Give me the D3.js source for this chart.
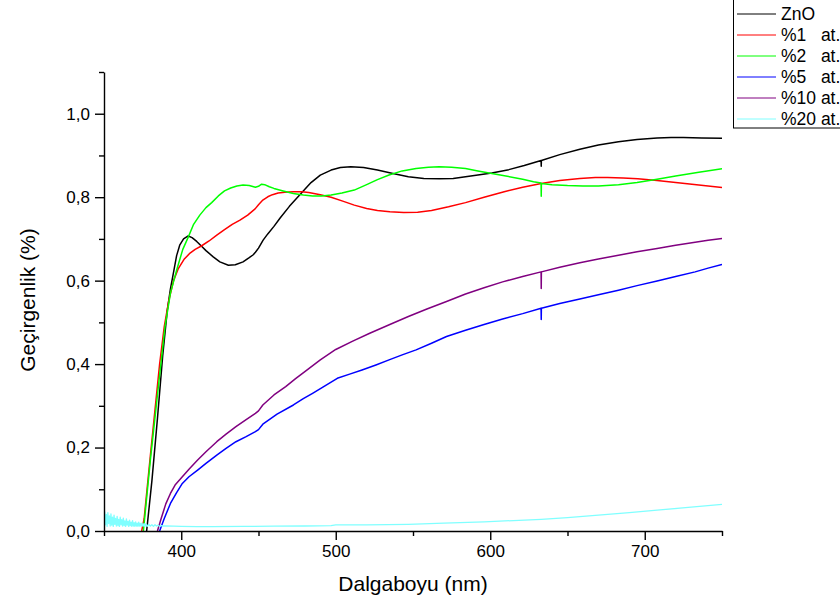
<!DOCTYPE html>
<html>
<head>
<meta charset="utf-8">
<script src="https://cdn.jsdelivr.net/npm/d3@7/dist/d3.min.js"></script>
<style>
  html, body { margin: 0; padding: 0; background: #fff; }
  svg { display: block; font-family: "Liberation Sans", Arial, sans-serif; }
  .legend text { white-space: pre; }
</style>
</head>
<body>
<svg id="chart" width="840" height="610"></svg>
<script>
// Transmittance spectra of ZnO films (undoped and doped), wavelength in nm.
const seriesNames = ["ZnO", "%1   at.", "%2   at.", "%5   at.", "%10 at.", "%20 at."];
const seriesColors = ["#000000", "#ff0000", "#00ff00", "#0000ff", "#800080", "#80ffff"];

const xTicks = [400, 500, 600, 700];
const xMinorTicks = [350, 450, 550, 650, 750];
const yTicks = [0, 0.2, 0.4, 0.6, 0.8, 1.0];
const yMinorTicks = [0.1, 0.3, 0.5, 0.7, 0.9, 1.1];

const znoWl = [377.6, 381, 384.6, 388, 391, 393, 395, 397, 399, 401.5, 404.5, 407, 410, 413, 416, 420.7, 425, 430.5, 435, 440, 444, 446.6, 448, 450, 453, 456, 460, 464, 470, 477.5, 484, 490, 497, 503, 509.7, 518, 527, 537, 547, 557, 567, 576, 584, 592, 601, 612, 622, 632.9, 633, 633.1, 645, 658, 670, 683, 695, 708, 717, 725, 737, 750];
const znoT  = [0, 0.12, 0.27, 0.42, 0.53, 0.58, 0.62, 0.66, 0.685, 0.700, 0.707, 0.703, 0.694, 0.683, 0.672, 0.657, 0.645, 0.637, 0.638, 0.645, 0.655, 0.662, 0.668, 0.678, 0.697, 0.712, 0.73, 0.75, 0.778, 0.809, 0.835, 0.853, 0.865, 0.871, 0.873, 0.871, 0.865, 0.857, 0.849, 0.845, 0.844, 0.845, 0.849, 0.853, 0.858, 0.866, 0.876, 0.888, 0.874, 0.888, 0.902, 0.915, 0.925, 0.933, 0.938, 0.942, 0.943, 0.943, 0.942, 0.941];

const at1Wl = [374.4, 376, 380, 386, 389, 392, 395, 398, 402, 405.7, 409, 413, 418, 423, 428, 433, 438, 443, 447.8, 450, 452.8, 456, 459, 462.7, 467, 472.6, 478, 482.5, 490, 497, 505, 512, 520, 527, 535, 544, 553, 562, 573, 584, 596, 609, 621, 633, 645, 658, 668, 676, 686, 695.5, 708, 720, 735, 750];
const at1T  = [0, 0.03, 0.18, 0.40, 0.49, 0.553, 0.6, 0.628, 0.652, 0.666, 0.675, 0.683, 0.695, 0.709, 0.722, 0.735, 0.745, 0.757, 0.772, 0.782, 0.793, 0.801, 0.806, 0.810, 0.812, 0.813, 0.813, 0.811, 0.806, 0.8, 0.79, 0.781, 0.773, 0.768, 0.765, 0.763, 0.764, 0.768, 0.777, 0.787, 0.8, 0.813, 0.824, 0.833, 0.840, 0.845, 0.847, 0.847, 0.846, 0.844, 0.84, 0.835, 0.829, 0.823];

const at2Wl = [375.5, 380, 385, 389.5, 393, 397, 401, 404.6, 408, 412, 416, 419.7, 424, 428, 432, 436, 440, 444, 448, 450, 452, 454, 457, 460, 466, 472.5, 479, 485, 491, 497, 504, 512, 520, 527, 534.5, 543, 552, 560, 567, 575, 584, 592, 601, 611, 621, 628, 632.9, 633, 633.1, 640, 650, 660, 670, 683, 695, 708, 720, 735, 750];
const at2T  = [0, 0.17, 0.34, 0.49, 0.57, 0.625, 0.675, 0.705, 0.735, 0.757, 0.775, 0.787, 0.803, 0.815, 0.822, 0.827, 0.829, 0.828, 0.824, 0.826, 0.831, 0.830, 0.825, 0.821, 0.815, 0.809, 0.805, 0.803, 0.803, 0.805, 0.81, 0.817, 0.83, 0.842, 0.853, 0.863, 0.869, 0.872, 0.873, 0.872, 0.869, 0.863, 0.857, 0.85, 0.843, 0.837, 0.834, 0.802, 0.833, 0.83, 0.828, 0.827, 0.827, 0.83, 0.835, 0.843, 0.851, 0.86, 0.868];

const at5Wl = [386, 389, 393, 397, 400.7, 405, 410.6, 416, 423, 429, 435.4, 442, 448, 450, 452.8, 462, 472.6, 479, 485, 493, 501, 509, 517, 526, 534.5, 543, 552, 562, 571.7, 584, 596, 608, 621, 632.9, 633, 633.1, 645, 658, 670, 683, 695, 708, 720, 732.6, 741, 750];
const at5T  = [0, 0.03, 0.066, 0.092, 0.114, 0.13, 0.146, 0.162, 0.182, 0.198, 0.214, 0.226, 0.238, 0.243, 0.256, 0.28, 0.302, 0.317, 0.33, 0.348, 0.366, 0.376, 0.386, 0.398, 0.41, 0.422, 0.434, 0.45, 0.466, 0.481, 0.495, 0.508, 0.521, 0.534, 0.507, 0.534, 0.545, 0.556, 0.566, 0.577, 0.588, 0.599, 0.61, 0.621, 0.63, 0.639];

const at10Wl = [384.6, 387, 390, 393, 396, 400.7, 405, 410.6, 416, 423, 429, 435.4, 442, 448, 450, 452.8, 460, 467.6, 474, 480, 490, 500, 511, 522, 535, 547, 559, 571.7, 584, 596, 608, 621, 632.9, 633, 633.1, 645, 658, 670, 683, 695, 708, 720, 732.6, 741, 750];
const at10T  = [0, 0.03, 0.065, 0.09, 0.11, 0.13, 0.148, 0.17, 0.19, 0.214, 0.232, 0.25, 0.267, 0.282, 0.288, 0.302, 0.326, 0.346, 0.365, 0.382, 0.41, 0.435, 0.455, 0.474, 0.495, 0.514, 0.532, 0.55, 0.568, 0.583, 0.597, 0.61, 0.621, 0.581, 0.621, 0.632, 0.643, 0.652, 0.661, 0.669, 0.677, 0.685, 0.692, 0.697, 0.701];

// %20 sample: noisy readings below 390 nm, then a smooth slow rise
const at20Wl = [350, 350.5, 351, 351.5, 352, 352.5, 353, 353.5, 354, 354.5, 355, 355.5, 356, 356.5, 357, 357.5, 358, 358.5, 359, 359.5, 360, 360.5, 361, 361.5, 362, 362.5, 363, 363.5, 364, 364.5, 365, 365.5, 366, 366.5, 367, 367.5, 368, 368.5, 369, 369.5, 370, 370.5, 371, 371.5, 372, 372.5, 373, 373.5, 374, 374.5, 375, 375.5, 376, 376.5, 377, 377.5, 378, 379, 380, 381, 382, 383, 384, 385, 386, 387, 388, 390, 395, 400, 410, 420, 440, 460, 480, 497, 500, 520, 547, 570, 596, 615, 633, 650, 670, 690, 708, 730, 750];
const at20T  = [0.012, 0.046, 0.015, 0.040, 0.011, 0.044, 0.018, 0.036, 0.012, 0.041, 0.014, 0.033, 0.011, 0.038, 0.016, 0.030, 0.012, 0.035, 0.013, 0.028, 0.011, 0.033, 0.015, 0.027, 0.012, 0.031, 0.013, 0.024, 0.011, 0.029, 0.014, 0.023, 0.011, 0.026, 0.013, 0.021, 0.011, 0.025, 0.012, 0.020, 0.011, 0.022, 0.012, 0.019, 0.011, 0.021, 0.012, 0.018, 0.011, 0.019, 0.012, 0.017, 0.011, 0.018, 0.012, 0.016, 0.011, 0.016, 0.012, 0.015, 0.011, 0.015, 0.012, 0.014, 0.011, 0.013, 0.012, 0.012, 0.0115, 0.011, 0.0105, 0.0105, 0.011, 0.0115, 0.012, 0.013, 0.0145, 0.0145, 0.016, 0.019, 0.022, 0.025, 0.028, 0.032, 0.038, 0.044, 0.05, 0.057, 0.064];

const seriesWl = [znoWl, at1Wl, at2Wl, at5Wl, at10Wl, at20Wl];
const seriesT  = [znoT, at1T, at2T, at5T, at10T, at20T];

const svg = d3.select("#chart");
const plotLeft = 104, plotRight = 722, plotTop = 72, plotBottom = 531;

const x = d3.scaleLinear().domain([350, 750]).range([plotLeft, plotRight]);
const y = d3.scaleLinear().domain([0, 1.1]).range([plotBottom, plotTop]);

const fmtY = v => d3.format(".1f")(v).replace(".", ",");

// clip region for the spectra
svg.append("defs").append("clipPath").attr("id", "plotClip")
  .append("rect").attr("x", plotLeft).attr("y", plotTop)
  .attr("width", plotRight - plotLeft).attr("height", plotBottom - plotTop);

const line = d3.line().x(d => x(d[0])).y(d => y(d[1]));

const plot = svg.append("g").attr("clip-path", "url(#plotClip)");
seriesWl.forEach((wl, i) => {
  const pts = wl.map((w, k) => [w, seriesT[i][k]]);
  plot.append("path")
    .datum(pts)
    .attr("fill", "none")
    .attr("stroke", seriesColors[i])
    .attr("stroke-width", i === 5 ? 1.3 : 1.5)
    .attr("stroke-linejoin", "round")
    .attr("d", line);
});

// axes: minor ticks first, then major ticks with labels
const axisStyle = g => {
  g.selectAll("path, line").attr("stroke", "#000").attr("stroke-width", 1.4);
  g.selectAll("text").attr("fill", "#000").attr("font-size", 17)
    .attr("font-family", "Liberation Sans, Arial, sans-serif");
};

svg.append("g").attr("transform", `translate(0,${plotBottom})`)
  .call(d3.axisBottom(x).tickValues(xMinorTicks).tickSize(5).tickSizeOuter(0).tickFormat(""))
  .call(axisStyle).call(g => g.select(".domain").remove());
svg.append("g").attr("transform", `translate(0,${plotBottom})`)
  .call(d3.axisBottom(x).tickValues(xTicks).tickSize(9).tickSizeOuter(0).tickPadding(5).tickFormat(d3.format("d")))
  .call(axisStyle);

svg.append("g").attr("transform", `translate(${plotLeft},0)`)
  .call(d3.axisLeft(y).tickValues(yMinorTicks).tickSize(5).tickSizeOuter(0).tickFormat(""))
  .call(axisStyle).call(g => g.select(".domain").remove());
svg.append("g").attr("transform", `translate(${plotLeft},0)`)
  .call(d3.axisLeft(y).tickValues(yTicks).tickSize(9).tickSizeOuter(0).tickPadding(5).tickFormat(fmtY))
  .call(axisStyle);

// axis titles
svg.append("text")
  .attr("x", (plotLeft + plotRight) / 2).attr("y", 591)
  .attr("text-anchor", "middle").attr("font-size", 21).attr("fill", "#000")
  .text("Dalgaboyu (nm)");
svg.append("text")
  .attr("transform", `translate(35,300) rotate(-90)`)
  .attr("text-anchor", "middle").attr("font-size", 21).attr("fill", "#000")
  .text("Geçirgenlik (%)");

// legend
const legend = svg.append("g").attr("class", "legend");
legend.append("rect")
  .attr("x", 733.5).attr("y", -2).attr("width", 130).attr("height", 130)
  .attr("fill", "#fff").attr("stroke", "#000").attr("stroke-width", 1);
seriesNames.forEach((name, i) => {
  const ly = 13.5 + i * 21;
  legend.append("line")
    .attr("x1", 737).attr("x2", 776).attr("y1", Math.round(ly)).attr("y2", Math.round(ly))
    .attr("stroke", seriesColors[i]).attr("stroke-width", 1);
  legend.append("text")
    .attr("x", 781).attr("y", ly + 6.5)
    .attr("font-size", 17.5).attr("fill", "#000")
    .attr("xml:space", "preserve")
    .text(name);
});
</script>
</body>
</html>
